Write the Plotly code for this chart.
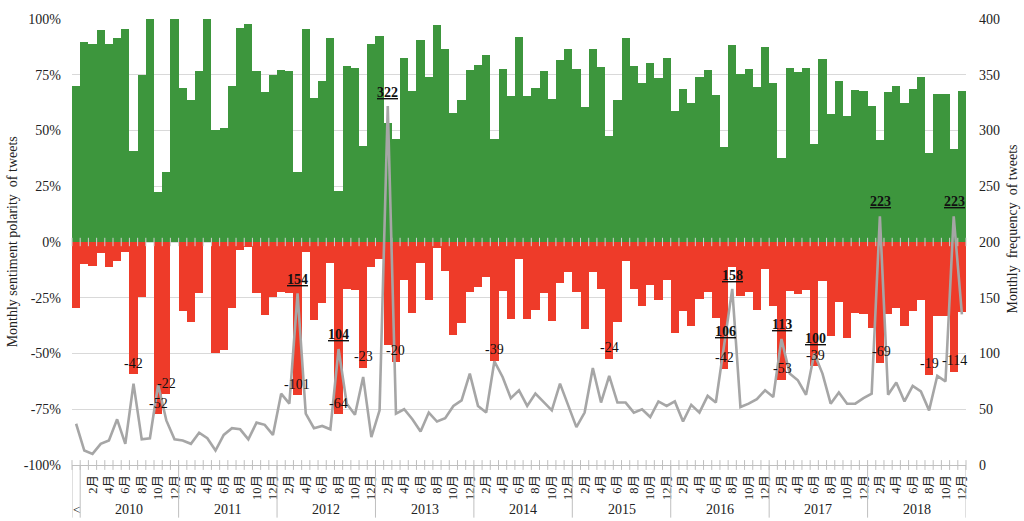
import plotly.graph_objects as go

# ---- data ----
# 109 monthly categories: one leading "<" category, then Jan 2010 .. Dec 2018
years = ["2010", "2011", "2012", "2013", "2014", "2015", "2016", "2017", "2018"]
month_labels = ["2月", "4月", "6月", "8月", "10月", "12月"]
first_label = "<"

positive = [70.1, 89.9, 88.9, 95.0, 88.6, 91.3, 95.4, 40.6, 75.1, 100, 22.2, 31.6, 100, 68.9, 63.6, 76.9,
            100, 50.2, 51.1, 70.1, 96.1, 97.6, 76.9, 67.1, 75.1, 77.3, 76.6, 31.4, 95.4, 64.7, 72.1, 91.3,
            22.7, 79.0, 78.0, 43.0, 88.6, 92.3, 53.3, 46.1, 82.7, 67.7, 90.4, 73.9, 97.2, 86.4, 57.9, 63.6,
            77.3, 79.3, 83.7, 46.4, 77.6, 65.5, 91.9, 65.5, 69.2, 76.9, 64.3, 81.5, 86.5, 77.6, 60.7, 86.5,
            78.5, 47.4, 63.9, 91.3, 79.0, 71.3, 80.3, 73.5, 82.7, 58.7, 68.7, 62.2, 74.2, 77.2, 65.8, 42.8,
            88.4, 75.4, 77.6, 69.3, 87.6, 71.3, 37.8, 78.0, 76.1, 78.0, 44.0, 82.2, 57.5, 72.3, 56.6, 68.0,
            67.7, 61.2, 45.6, 67.4, 70.1, 62.2, 68.4, 73.8, 40.1, 66.5, 66.5, 41.8, 67.7]

negative = [-29.6, -9.9, -10.8, -5.0, -11.1, -8.6, -4.4, -59.3, -24.7, 0, -77.2, -68.1, 0, -30.8, -36.0,
             -22.7, 0, -49.6, -48.4, -29.6, -3.7, -2.2, -22.7, -32.7, -24.7, -22.4, -23.0, -68.4, -4.4,
             -35.1, -27.3, -9.2, -77.2, -21.0, -21.6, -56.4, -11.4, -7.7, -46.4, -53.8, -17.2, -31.9, -9.6,
             -25.9, -2.5, -13.2, -41.9, -36.1, -22.5, -20.4, -15.7, -53.5, -21.8, -34.4, -7.7, -34.4, -30.5,
             -23.0, -35.6, -18.4, -13.3, -22.2, -39.0, -13.3, -21.2, -52.3, -35.9, -8.6, -21.0, -28.6,
             -19.4, -26.2, -17.2, -41.0, -31.0, -37.5, -25.5, -22.5, -33.9, -56.9, -11.4, -24.3, -22.2,
             -30.5, -12.1, -28.6, -61.9, -21.9, -23.4, -21.5, -55.7, -17.5, -42.2, -27.1, -43.1, -31.7,
             -32.1, -38.5, -54.2, -32.3, -29.8, -37.5, -31.1, -25.9, -59.6, -33.2, -33.2, -58.1, -31.4]

frequency = [37, 13, 10, 19, 22, 41, 19, 73, 23, 24, 72, 40, 23, 22, 19, 29, 24, 13, 27, 33, 32, 23, 38,
             36, 27, 64, 55, 154, 46, 33, 35, 32, 104, 55, 45, 79, 25, 49, 322, 46, 50, 41, 30, 47, 39, 42,
             53, 58, 82, 53, 47, 93, 79, 60, 67, 53, 64, 56, 49, 73, 53, 34, 47, 87, 56, 80, 56, 56, 47, 50,
             43, 57, 53, 57, 39, 54, 47, 62, 56, 106, 158, 52, 55, 59, 67, 61, 113, 82, 76, 63, 100, 82, 55,
             65, 55, 55, 60, 64, 223, 63, 74, 57, 71, 66, 49, 80, 75, 223, 135]

# data labels: text, category index, value on the frequency axis
peak_text = ["322", "154", "104", "158", "106", "113", "100", "223", "223"]
peak_idx = [38, 27, 32, 80, 79.2, 86.1, 90.1, 98.1, 107.1]
peak_val = [334, 166.5, 116.7, 170.4, 119.4, 125.6, 113.5, 236.2, 236.2]

note_text = ["-42", "-22", "-52", "-101", "-64", "-23", "-20", "-39", "-24", "-42", "-53", "-39", "-69",
             "-19", "-114"]
note_idx = [7, 11, 10, 26.9, 32, 35, 39, 51, 65, 79.1, 86.1, 90.1, 98.2, 104.1, 107.1]
note_val = [90.9, 73.5, 55.4, 72.6, 54.8, 96.9, 102.8, 103.4, 105.2, 96, 86.5, 98, 101.6, 91.3, 93.3]

# ---- derived positions ----
n = len(positive)
idx = list(range(n))
tickvals = [0]
ticktext = [""]
for k in range(len(years)):
    for j, lab in enumerate(month_labels):
        tickvals.append(12 * k + 2 * (j + 1))
        ticktext.append(lab)
boundaries = [i - 0.5 for i in range(n + 1)]
dividers = [-0.5, 0.5] + [12 * k + 12.5 for k in range(len(years))]

SERIF = "Liberation Serif, Times New Roman, Noto Sans CJK SC, serif"
TXT = "#222222"
GREEN = "#3d963d"
RED = "#ee3b29"
GRID = "#d9d9d9"

fig = go.Figure()
fig.add_trace(go.Bar(x=idx, y=positive, marker=dict(color=GREEN, line=dict(width=0)), width=1,
                     showlegend=False, hoverinfo="skip"))
fig.add_trace(go.Bar(x=idx, y=negative, marker=dict(color=RED, line=dict(width=0)), width=1,
                     showlegend=False, hoverinfo="skip"))
# small category tick marks on zero line and bottom axis
fig.add_trace(go.Scatter(x=boundaries, y=[0] * len(boundaries), mode="markers",
                         marker=dict(symbol="line-ns", size=6, line=dict(width=1, color="#cfcfcf")),
                         showlegend=False, hoverinfo="skip", cliponaxis=False))
fig.add_trace(go.Scatter(x=boundaries, y=[-100] * len(boundaries), mode="markers",
                         marker=dict(symbol="line-ns", size=7, line=dict(width=1, color="#bfbfbf")),
                         showlegend=False, hoverinfo="skip", cliponaxis=False))
fig.add_trace(go.Scatter(x=idx, y=frequency, yaxis="y2", mode="lines",
                         line=dict(color="#a6a6a6", width=2.6), showlegend=False, hoverinfo="skip"))

fig.update_layout(
    width=1024, height=521,
    margin=dict(l=72, r=58, t=15, b=56),
    paper_bgcolor="white", plot_bgcolor="white",
    barmode="relative", bargap=0,
    font=dict(family=SERIF, color=TXT, size=14),
    xaxis=dict(range=[-0.5, n - 0.5], tickmode="array", tickvals=tickvals, ticktext=ticktext,
               tickangle=-90, tickfont=dict(size=12.5, family=SERIF, color=TXT), ticks="",
               showline=True, linecolor="#bfbfbf", linewidth=1, showgrid=False, zeroline=False,
               ticklabelstandoff=4),
    yaxis=dict(range=[-100, 100], tickmode="array", tickvals=[-100, -75, -50, -25, 0, 25, 50, 75, 100],
               ticktext=["-100%", "-75%", "-50%", "-25%", "0%", "25%", "50%", "75%", "100%"],
               showgrid=True, gridcolor=GRID, gridwidth=1, zeroline=False, showline=False, ticks="",
               tickfont=dict(size=14, family=SERIF, color=TXT), ticklabelstandoff=10),
    yaxis2=dict(range=[0, 400], overlaying="y", side="right", tickmode="linear", tick0=0, dtick=50,
                showgrid=False, zeroline=False, showline=False, ticks="",
                tickfont=dict(size=14, family=SERIF, color=TXT), ticklabelstandoff=12),
)

shapes = []
for d in dividers:
    shapes.append(dict(type="line", xref="x", yref="paper", x0=d, x1=d, y0=0, y1=-0.118,
                       line=dict(color="#bfbfbf", width=1)))
fig.update_layout(shapes=shapes)

annotations = []
for k, yr in enumerate(years):
    annotations.append(dict(x=12 * k + 6.5, y=-0.1, xref="x", yref="paper", text=yr, showarrow=False,
                            font=dict(size=14, family=SERIF, color=TXT), yanchor="middle"))
annotations.append(dict(x=0, y=-0.1, xref="x", yref="paper", text=first_label, showarrow=False,
                        font=dict(size=13, family=SERIF, color=TXT), yanchor="middle"))
for t, xi, v in zip(peak_text, peak_idx, peak_val):
    annotations.append(dict(x=xi, y=v, xref="x", yref="y2", text="<b><u>" + t + "</u></b>",
                            showarrow=False, font=dict(size=14, family=SERIF, color="#111111")))
for t, xi, v in zip(note_text, note_idx, note_val):
    annotations.append(dict(x=xi, y=v, xref="x", yref="y2", text=t, showarrow=False,
                            font=dict(size=14, family=SERIF, color="#111111")))
annotations.append(dict(x=-0.0667, y=0.5, xref="paper", yref="paper",
                        text="Monthly sentiment polarity\u00a0 of tweets", textangle=-90, showarrow=False,
                        font=dict(size=14, family=SERIF, color=TXT), xanchor="center", yanchor="middle"))
annotations.append(dict(x=1.0525, y=0.53, xref="paper", yref="paper",
                        text="Monthly\u00a0 frequency\u00a0 of tweets", textangle=-90, showarrow=False,
                        font=dict(size=14, family=SERIF, color=TXT), xanchor="center", yanchor="middle"))
fig.update_layout(annotations=annotations)

fig.write_html("out.html", config={"displayModeBar": False},
               post_script="document.body.style.margin='0';document.body.style.overflow='hidden';")
